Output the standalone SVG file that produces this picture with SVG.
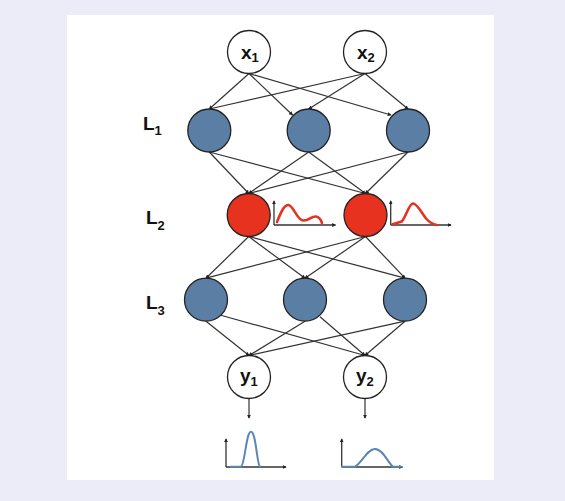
<svg xmlns="http://www.w3.org/2000/svg" width="565" height="501" viewBox="0 0 565 501">
<style>
.bg{fill:#ECECF9}
.panel{fill:#FFFFFF}
.io{fill:#FFFFFF;stroke:#222;stroke-width:1.3}
.hid{fill:#5B7EA5;stroke:#222;stroke-width:1.3}
.red{fill:#E6321F;stroke:#222;stroke-width:1.3}
.lbl{font-family:"Liberation Sans",Arial,sans-serif;font-weight:bold;fill:#111;font-size:19px}
.sub{font-size:13px}
.edge{stroke:#333;stroke-width:1.2;fill:none;marker-end:url(#ah)}
.axis{stroke:#333;stroke-width:1.3;fill:none;marker-end:url(#ah)}
.rc{stroke:#E6321F;stroke-width:2.6;fill:none;stroke-linecap:round;stroke-linejoin:round}
.bc{stroke:#5A86B6;stroke-width:2;fill:none;stroke-linecap:round;stroke-linejoin:round}
</style>
<defs>
<marker id="ah" viewBox="0 0 6 6" refX="5" refY="3" markerWidth="4" markerHeight="4" markerUnits="userSpaceOnUse" orient="auto">
<path d="M0,0 L6,3 L0,6 z" fill="#222"/>
</marker>
</defs>
<rect class="bg" x="0" y="0" width="565" height="501"/>
<rect class="panel" x="67" y="15" width="427" height="465"/>

<g id="connectors">
<line class="edge" x1="249" y1="73.5" x2="209.3" y2="109"/>
<line class="edge" x1="249" y1="73.5" x2="292.5" y2="115"/>
<line class="edge" x1="249" y1="73.5" x2="391" y2="115"/>
<line class="edge" x1="365" y1="73.5" x2="209.3" y2="109"/>
<line class="edge" x1="365" y1="73.5" x2="308.7" y2="109"/>
<line class="edge" x1="365" y1="73.5" x2="408" y2="109"/>

<line class="edge" x1="209.3" y1="152" x2="248.7" y2="193.5"/>
<line class="edge" x1="209.3" y1="152" x2="365.5" y2="193.5"/>
<line class="edge" x1="308.7" y1="152" x2="248.7" y2="193.5"/>
<line class="edge" x1="308.7" y1="152" x2="365.5" y2="193.5"/>
<line class="edge" x1="408" y1="152" x2="248.7" y2="193.5"/>
<line class="edge" x1="408" y1="152" x2="365.5" y2="193.5"/>

<line class="edge" x1="248.7" y1="236.5" x2="206" y2="278.2"/>
<line class="edge" x1="248.7" y1="236.5" x2="305" y2="278.2"/>
<line class="edge" x1="248.7" y1="236.5" x2="405" y2="278.2"/>
<line class="edge" x1="365.5" y1="236.5" x2="206" y2="278.2"/>
<line class="edge" x1="365.5" y1="236.5" x2="305" y2="278.2"/>
<line class="edge" x1="365.5" y1="236.5" x2="405" y2="278.2"/>

<line class="edge" x1="206" y1="321.2" x2="249" y2="355.5"/>
<line class="edge" x1="220" y1="315" x2="365" y2="355.5"/>
<line class="edge" x1="305" y1="321.2" x2="249" y2="355.5"/>
<line class="edge" x1="320" y1="316.7" x2="365" y2="355.5"/>
<line class="edge" x1="405" y1="321.2" x2="249" y2="355.5"/>
<line class="edge" x1="405" y1="321.2" x2="365" y2="355.5"/>

<line class="edge" x1="249" y1="398.5" x2="249" y2="418"/>
<line class="edge" x1="365" y1="398.5" x2="365" y2="418"/>
</g>

<g id="label-L1"><text class="lbl" x="143" y="130">L<tspan class="sub" dy="5">1</tspan></text></g>
<g id="label-L2"><text class="lbl" x="146" y="223.5">L<tspan class="sub" dy="6">2</tspan></text></g>
<g id="label-L3"><text class="lbl" x="146" y="308.5">L<tspan class="sub" dy="6">3</tspan></text></g>

<g id="x1"><circle class="io" cx="249" cy="52" r="21.5"/><text class="lbl" x="241" y="58.5">x<tspan class="sub" dy="3.5">1</tspan></text></g>
<g id="x2"><circle class="io" cx="365" cy="52" r="21.5"/><text class="lbl" x="357" y="58.5">x<tspan class="sub" dy="3.5">2</tspan></text></g>

<g id="L1-1"><circle class="hid" cx="209.3" cy="130.5" r="21.5"/></g>
<g id="L1-2"><circle class="hid" cx="308.7" cy="130.5" r="21.5"/></g>
<g id="L1-3"><circle class="hid" cx="408" cy="130.5" r="21.5"/></g>

<g id="L2-1"><circle class="red" cx="248.7" cy="215" r="21.5"/></g>
<g id="L2-2"><circle class="red" cx="365.5" cy="215" r="21.5"/></g>

<g id="L3-1"><circle class="hid" cx="206" cy="299.7" r="21.5"/></g>
<g id="L3-2"><circle class="hid" cx="305" cy="299.7" r="21.5"/></g>
<g id="L3-3"><circle class="hid" cx="405" cy="299.7" r="21.5"/></g>

<g id="y1"><circle class="io" cx="249" cy="377" r="21.5"/><text class="lbl" x="240" y="382">y<tspan class="sub" dy="4">1</tspan></text></g>
<g id="y2"><circle class="io" cx="365" cy="377" r="21.5"/><text class="lbl" x="356" y="382">y<tspan class="sub" dy="4">2</tspan></text></g>

<g id="dist-L2-1">
<polyline class="axis" points="274,225 274,201"/>
<polyline class="axis" points="274,225 335.5,225"/>
<path class="rc" d="M277,222 C281,212 284,205 288.5,205 C293,205 297,220 303,220.5 C309,221 311,216 316,216.5 C320,217 321,220 322,223"/>
</g>
<g id="dist-L2-2">
<polyline class="axis" points="390.7,225 390.7,201"/>
<polyline class="axis" points="390.7,225 451,225"/>
<path class="rc" d="M392.7,224.3 L401.7,221.5 C406,217 409,203.5 413,203.5 C417,203.5 421,212 426,218.5 C430,223 434,224.5 436.7,225"/>
</g>

<g id="dist-y1">
<polyline class="axis" points="226,467 226,439"/>
<polyline class="axis" points="226,467 286,467"/>
<path class="bc" d="M231,466.7 L241,466.7 C245,465 246,431.7 251,431.7 C256,431.7 257,465 260,466.7"/>
</g>
<g id="dist-y2">
<polyline class="axis" points="341.7,467 341.7,439"/>
<polyline class="axis" points="341.7,467 402.5,467"/>
<path class="bc" d="M342,466.7 L355,466.7 C362,463 367,449 375,449 C383,449 388,463 393,466.7 L401,466.7"/>
</g>
</svg>
